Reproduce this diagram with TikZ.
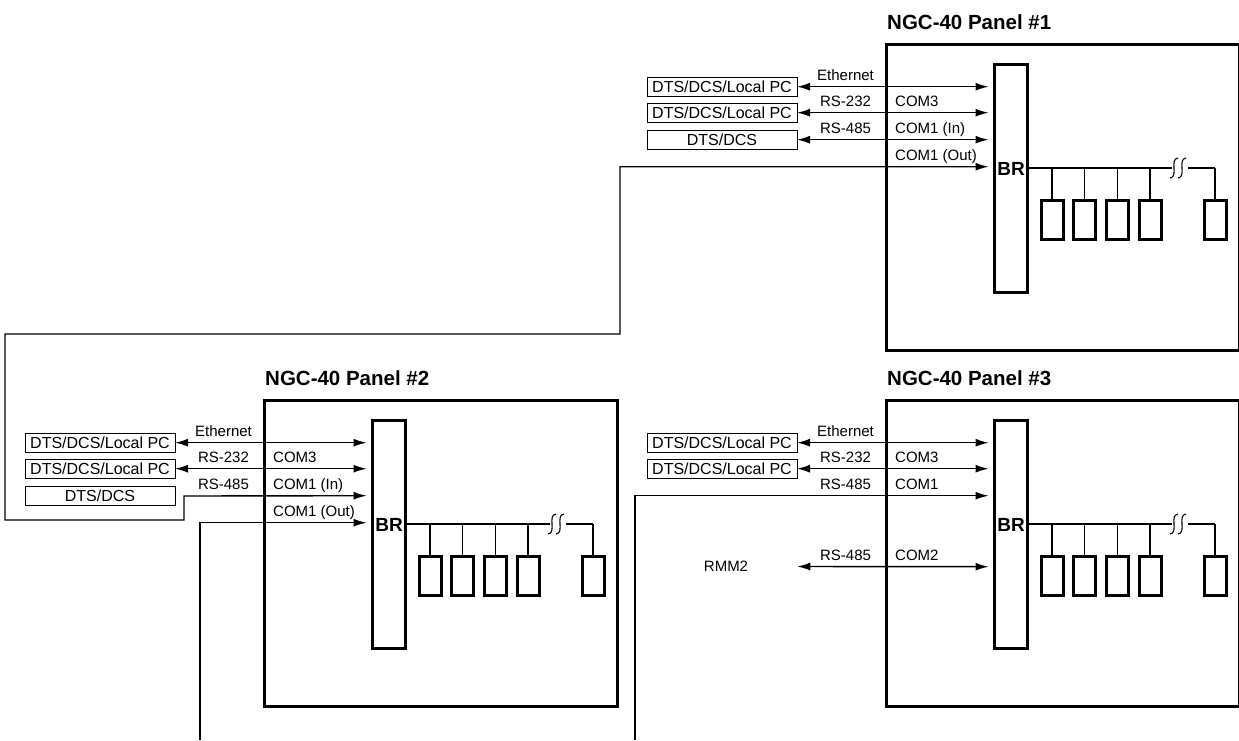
\documentclass[tikz,border=0pt]{standalone}
\usepackage{fontspec}
\setmainfont{Liberation Sans}
\usetikzlibrary{arrows.meta,calc,positioning}

\tikzset{
  panelbox/.style={draw, line width=3pt, anchor=north west, minimum width=353pt,
                   minimum height=306pt, inner sep=0pt, outer sep=0pt},
  paneltitle/.style={anchor=base west, inner sep=0pt, font=\fontsize{20.5}{24}\selectfont\bfseries},
  brbar/.style={draw, line width=3pt, anchor=north west, minimum width=33pt,
                minimum height=227.5pt, inner sep=0pt, outer sep=0pt},
  brlabel/.style={inner sep=0pt, font=\fontsize{19}{22}\selectfont\bfseries},
  devbox/.style={draw, line width=3pt, anchor=north, minimum width=22pt,
                 minimum height=38.5pt, inner sep=0pt, outer sep=0pt},
  hostbox/.style={draw, line width=0.9pt, minimum width=150pt, minimum height=19pt,
                  inner sep=0pt, outer sep=0pt, font=\fontsize{16}{18}\selectfont},
  lbl/.style={inner sep=0pt, font=\fontsize{15}{18}\selectfont},
  bus/.style={line width=1.3pt},
  link/.style={line width=1.4pt, {Latex[length=13pt,width=8pt]}-{Latex[length=13pt,width=8pt]}},
  feed/.style={line width=1.4pt, -{Latex[length=13pt,width=8pt]}}
}

% one NGC-40 panel: name, x, y of top left corner, title
\newcommand{\ngcpanel}[4]{%
  \node[panelbox] (#1) at (#2,#3) {};
  \node[paneltitle] (#1title) at ($(#1.north west)+(1,-15)$) {#4};
  \node[brbar] (#1br) at ($(#1.north west)+(108.5,20.5)$) {};
  \node[brlabel] (#1brtext) at ($(#1br.north)+(0,104.5)$) {BR};
  \coordinate (#1b0) at ($(#1.north west)+(141.5,124)$);
  \coordinate (#1b1) at ($(#1.north west)+(286,124)$);
  \coordinate (#1b2) at ($(#1.north west)+(302,124)$);
  \coordinate (#1b3) at ($(#1.north west)+(329,124)$);
  \draw[bus] (#1b0) -- (#1b1) (#1b2) -- (#1b3);
  \foreach \sx in {2,10}
    \draw[line width=1.1pt] ($(#1b1)+(\sx+4,-10)$) .. controls ($(#1b1)+(\sx-5,-9)$) and ($(#1b1)+(\sx+5,9)$) .. ($(#1b1)+(\sx-4,10)$);
  \foreach \dx/\k in {166/1,198.7/2,231.3/3,264/4,329/5} {
    \node[devbox] (#1d\k) at ($(#1.north west)+(\dx,156.5)$) {};
    \draw[bus] (#1d\k.north |- #1b0) -- (#1d\k.north);
  }
  \foreach \py/\k in {42.7/1,68.7/2,95.7/3,122.7/4,166.7/5}
    \coordinate (#1p\k) at ($(#1.north west)+(102.5,\py)$);
}

% text over a port line: panel, port, left text, right text
\newcommand{\portlabel}[4]{%
  \node[lbl, anchor=base] (#1l#2) at ($(#1p#2)+(-143,-6)$) {#3};
  \node[lbl, anchor=base west] (#1r#2) at ($(#1p#2)+(-93.5,-6)$) {#4};
}

\begin{document}
\begin{tikzpicture}[x=1pt, y=-1pt]
\useasboundingbox (0,0) rectangle (1239,740);

\ngcpanel{P1}{886}{44}{NGC-40 Panel \#1}
\ngcpanel{P2}{264}{400}{NGC-40 Panel \#2}
\ngcpanel{P3}{886}{400}{NGC-40 Panel \#3}

% hosts
\node[hostbox] (P1h1) at (P1p1 -| 722,0) {DTS/DCS/Local PC};
\node[hostbox] (P1h2) at (P1p2 -| 722,0) {DTS/DCS/Local PC};
\node[hostbox] (P1h3) at (P1p3 -| 722,0) {DTS/DCS};
\node[hostbox] (P2h1) at (P2p1 -| 100,0) {DTS/DCS/Local PC};
\node[hostbox] (P2h2) at (P2p2 -| 100,0) {DTS/DCS/Local PC};
\node[hostbox] (P2h3) at (P2p3 -| 100,0) {DTS/DCS};
\node[hostbox] (P3h1) at (P3p1 -| 722,0) {DTS/DCS/Local PC};
\node[hostbox] (P3h2) at (P3p2 -| 722,0) {DTS/DCS/Local PC};
\node[lbl] (rmm) at (726,566.5) {RMM2};

\draw[link] (P1h1) -- (P1p1);
\draw[link] (P1h2) -- (P1p2);
\draw[link] (P1h3) -- (P1p3);
\draw[link] (P2h1) -- (P2p1);
\draw[link] (P2h2) -- (P2p2);
\draw[link] (P3h1) -- (P3p1);
\draw[link] (P3h2) -- (P3p2);
\coordinate (rmmport) at ($(rmm.east)+(49,0)$);
\draw[link] (rmmport) -- (P3p5);

% RS-485 chain
\coordinate (jogA) at (620,334);
\coordinate (jogB) at (5,520);
\coordinate (jogC) at (184,496);
\draw[link] (P1p4) -| (jogA) -| (jogB) -| (jogC) -- (P2p3);
\coordinate (P2feed) at (200,740);
\coordinate (P3feed) at (635,740);
\draw[feed] (P2feed) |- (P2p4);
\draw[feed] (P3feed) |- (P3p3);

% labels
\portlabel{P1}{1}{Ethernet}{}
\portlabel{P1}{2}{RS-232}{COM3}
\portlabel{P1}{3}{RS-485}{COM1 (In)}
\portlabel{P1}{4}{}{COM1 (Out)}
\portlabel{P2}{1}{Ethernet}{}
\portlabel{P2}{2}{RS-232}{COM3}
\portlabel{P2}{3}{RS-485}{COM1 (In)}
\portlabel{P2}{4}{}{COM1 (Out)}
\portlabel{P3}{1}{Ethernet}{}
\portlabel{P3}{2}{RS-232}{COM3}
\portlabel{P3}{3}{RS-485}{COM1}
\portlabel{P3}{5}{RS-485}{COM2}

\end{tikzpicture}
\end{document}
